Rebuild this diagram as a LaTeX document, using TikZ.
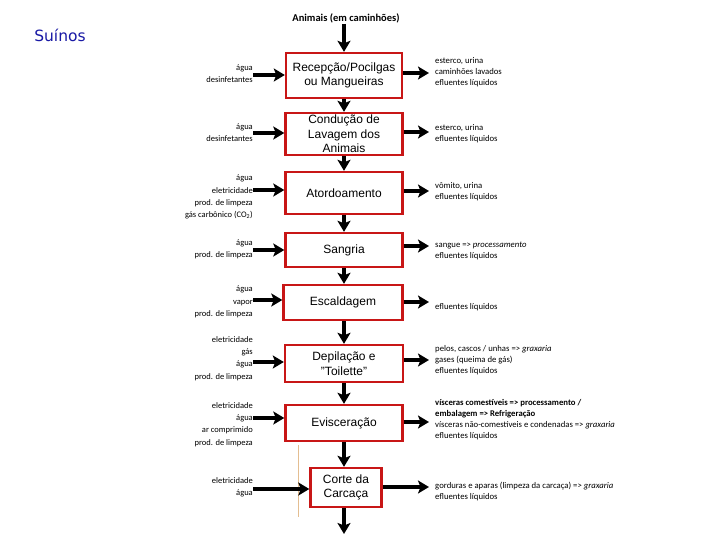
\documentclass[tikz,border=0pt]{standalone}
\usepackage{fontspec}
\setmainfont{Liberation Sans}
\newfontfamily\smallfont{Carlito}
\newfontfamily\titlefont{DejaVu Sans}
\usetikzlibrary{arrows.meta}
\definecolor{boxred}{RGB}{200,22,22}
\definecolor{suinoblue}{RGB}{25,25,165}
\definecolor{tanline}{RGB}{228,190,145}
\begin{document}
\begin{tikzpicture}[x=1pt,y=-1pt,
  procbox/.style={draw=boxred, line width=2.4pt, fill=white, align=center,
    font=\fontsize{12}{14.5}\selectfont, inner sep=1pt},
  flow/.style={line width=3.3pt, -{Stealth[length=11pt,width=13pt,inset=2.5pt]}},
  inlbl/.style={anchor=east, align=right, inner sep=0pt, font=\smallfont\fontsize{8.5}{12.3}\selectfont},
  outlbl/.style={anchor=west, align=left, inner sep=0pt, font=\smallfont\fontsize{8.7}{11}\selectfont}]
\useasboundingbox (0,0) rectangle (720,540);
\fill[white] (0,0) rectangle (720,540);

\node[font=\titlefont\fontsize{15.5}{17}\selectfont, text=suinoblue] (suinos) at (60,35) {Suínos};
\node[font=\smallfont\bfseries\fontsize{10.5}{12}\selectfont, inner sep=1pt] (title) at (346,18) {Animais (em caminhões)};

% process boxes
\node[procbox, minimum width=116pt, minimum height=45pt] (b1) at (344,75.5) {Recepção/Pocilgas\\ou Mangueiras};
\node[procbox, minimum width=117pt, minimum height=42pt] (b2) at (344,134) {Condução de\\Lavagem dos\\Animais};
\node[procbox, minimum width=117pt, minimum height=42pt] (b3) at (344,193) {Atordoamento};
\node[procbox, minimum width=117pt, minimum height=34pt] (b4) at (344,250) {Sangria};
\node[procbox, minimum width=119pt, minimum height=35pt] (b5) at (343,302.5) {Escaldagem};
\node[procbox, minimum width=118pt, minimum height=37pt] (b6) at (344,363.5) {Depilação e\\"Toilette"};
\node[procbox, minimum width=117pt, minimum height=36pt] (b7) at (344,423) {Evisceração};
\node[procbox, minimum width=71pt, minimum height=39pt] (b8) at (346,487.5) {Corte da\\Carcaça};

\draw[tanline, line width=1pt] (298,445) -- (298,517);

% vertical flow
\coordinate (bottomend) at (344,534);
\draw[flow] (title.south -| b1.north) -- (b1.north);
\draw[flow] (b1.south) -- (b2.north);
\draw[flow] (b2.south) -- (b3.north);
\draw[flow] (b3.south) -- (b4.north);
\draw[flow] (b4.south) -- (b4.south |- b5.north);
\draw[flow] (b4.south |- b5.south) -- (b6.north);
\draw[flow] (b6.south) -- (b7.north);
\draw[flow] (b7.south) -- (b7.south |- b8.north);
\draw[flow] (b7.south |- b8.south) -- (bottomend);

% inputs
\coordinate (la1) at (253,75);
\coordinate (la2) at (253,133);
\coordinate (la3) at (253,190);
\coordinate (la4) at (253,250);
\coordinate (la5) at (253,300);
\coordinate (la6) at (253,362);
\coordinate (la7) at (253,418);
\coordinate (la8) at (253,489);
\foreach \i in {1,...,8} { \draw[flow] (la\i) -- (la\i -| b\i.west); }

\node[inlbl] (l1) at (253,73.5) {água\\desinfetantes};
\node[inlbl] (l2) at (253,132.5) {água\\desinfetantes};
\node[inlbl] (l3) at (253,197) {água\\eletricidade\\prod. de limpeza\\gás carbônico (CO\textsubscript{2})};
\node[inlbl] (l4) at (253,249) {água\\prod. de limpeza};
\node[inlbl] (l5) at (253,302) {água\\vapor\\prod. de limpeza};
\node[inlbl] (l6) at (253,358.5) {eletricidade\\gás\\água\\prod. de limpeza};
\node[inlbl] (l7) at (253,424.5) {eletricidade\\água\\ar comprimido\\prod. de limpeza};
\node[inlbl] (l8) at (253,487.5) {eletricidade\\água};

% outputs
\coordinate (ra1) at (429,73);
\coordinate (ra2) at (429,132);
\coordinate (ra3) at (429,191);
\coordinate (ra4) at (429,246);
\coordinate (ra5) at (429,302);
\coordinate (ra6) at (429,360);
\coordinate (ra7) at (429,422);
\coordinate (ra8) at (429,487);
\foreach \i in {1,...,8} { \draw[flow] (ra\i -| b\i.east) -- (ra\i); }

\node[outlbl] (r1) at (435,72) {esterco, urina\\caminhões lavados\\efluentes líquidos};
\node[outlbl] (r2) at (435,134) {esterco, urina\\efluentes líquidos};
\node[outlbl] (r3) at (435,192) {vômito, urina\\efluentes líquidos};
\node[outlbl] (r4) at (435,251) {sangue => \textit{processamento}\\efluentes líquidos};
\node[outlbl] (r5) at (435,307) {efluentes líquidos};
\node[outlbl] (r6) at (435,360) {pelos, cascos / unhas => \textit{graxaria}\\gases (queima de gás)\\efluentes líquidos};
\node[outlbl] (r7) at (435,420) {\textbf{vísceras comestíveis => processamento /}\\\textbf{embalagem => Refrigeração}\\vísceras não-comestíveis e condenadas => \textit{graxaria}\\efluentes líquidos};
\node[outlbl] (r8) at (435,492) {gorduras e aparas (limpeza da carcaça) => \textit{graxaria}\\efluentes líquidos};
\end{tikzpicture}
\end{document}
